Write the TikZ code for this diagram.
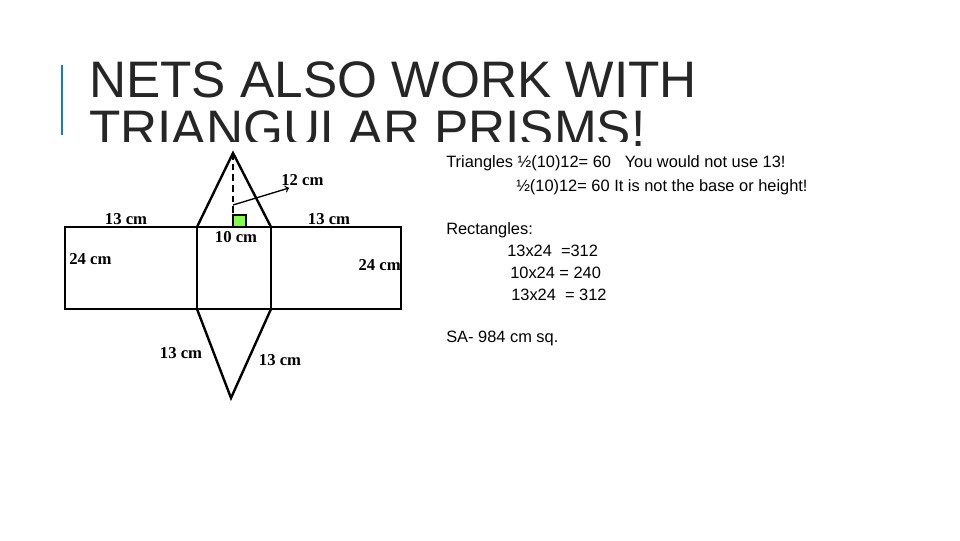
\documentclass[tikz,border=0pt]{standalone}
\usepackage{fontspec}
\setmainfont{Liberation Sans}
\newfontfamily\serifx{Liberation Serif}
\begin{document}
\begin{tikzpicture}[x=0.75pt,y=-0.75pt,
  lbl/.style={font=\serifx\bfseries\fontsize{12.5}{12.5}\selectfont,inner sep=0pt},
  body/.style={font=\fontsize{12.3}{14.4}\selectfont,anchor=west,inner sep=0pt},
  edge/.style={line width=1.8pt}]
\fill[white] (0,0) rectangle (960,540);
\draw[line width=1.5pt,color=cyan!60!blue] (62,65) -- (62,135);
\node[anchor=base west,inner sep=0pt,font=\fontsize{38.5}{38.5}\selectfont,text=black!85] (t1) at (89,97) {NETS ALSO WORK WITH};
\node[anchor=base west,inner sep=0pt,font=\fontsize{38.5}{38.5}\selectfont,text=black!85] (t2) at (89,146) {TRIANGULAR PRISMS!};
% white image area covering bottom of title
\fill[white] (60,142) rectangle (415,405);
\fill[white] (415,142) rectangle (632,152);
\coordinate (A) at (233,153);
\coordinate (B) at (231,398);
\coordinate (TL) at (65,227); \coordinate (TR) at (401,227);
\coordinate (BL) at (65,309); \coordinate (BR) at (401,309);
\coordinate (M1) at (197,227); \coordinate (M2) at (271,227);
\coordinate (N1) at (197,309); \coordinate (N2) at (271,309);
\draw[edge] (TL) rectangle (BR);
\draw[edge] (M1) -- (N1) (M2) -- (N2);
\draw[edge] (M1) -- (A) -- (M2);
\draw[edge] (N1) -- (B) -- (N2);
\draw[line width=1.8pt,dash pattern=on 5pt off 3pt] (A) -- (233,215);
\draw[line width=1.3pt,fill=green!60!lime!70] (233,215) rectangle (246,227);
\draw[line width=1pt,->] (233,205) -- (289,188);
\node[lbl,anchor=west] (l12) at (281,180) {12 cm};
\node[lbl] (l13a) at (126,219) {13 cm};
\node[lbl] (l13b) at (329,219) {13 cm};
\node[lbl] (l10) at (236,237) {10 cm};
\node[lbl,anchor=west] (l24a) at (69,259) {24 cm};
\node[lbl,anchor=east] (l24b) at (401,265) {24 cm};
\node[lbl] (l13c) at (181,353) {13 cm};
\node[lbl] (l13d) at (280,360) {13 cm};
\node[body] (s1) at (446,163) {Triangles ½(10)12= 60\ \ \ You would not use 13!};
\node[body] (s2) at (516,187) {½(10)12= 60 It is not the base or height!};
\node[body] (s3) at (446,230) {Rectangles:};
\node[body] (s4) at (507,251) {13x24\ \ =312};
\node[body] (s5) at (510,273) {10x24 = 240};
\node[body] (s6) at (511,295) {13x24\ \ = 312};
\node[body] (s7) at (446,338) {SA- 984 cm sq.};
\end{tikzpicture}
\end{document}
